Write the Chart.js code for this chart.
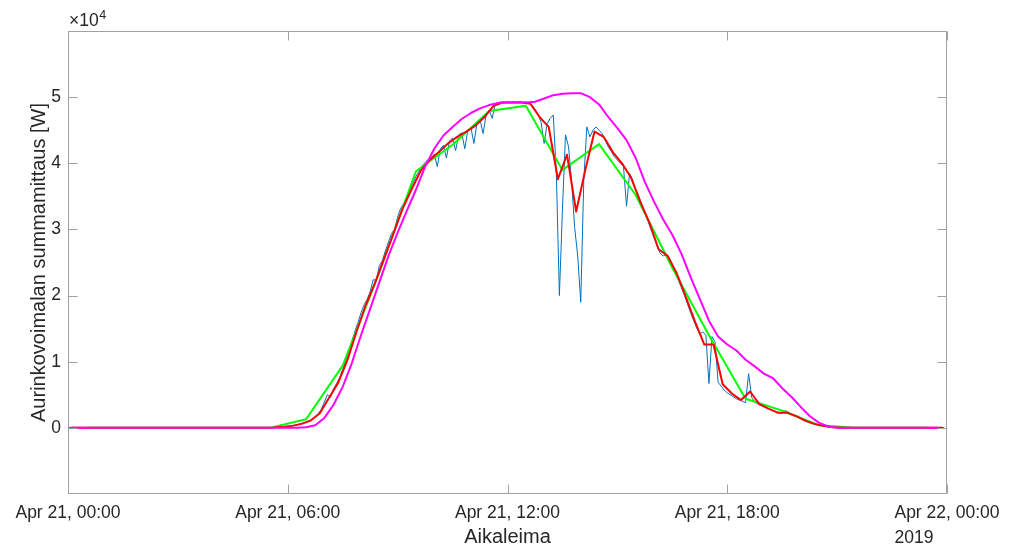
<!DOCTYPE html>
<html>
<head>
<meta charset="utf-8">
<title>Aurinkovoimalan summamittaus</title>
<style>
  html, body { margin: 0; padding: 0; background: #ffffff; }
  canvas { display: block; }
</style>
<script src="https://cdn.jsdelivr.net/npm/chart.js@4/dist/chart.umd.min.js"></script>
</head>
<body>
<canvas id="chart" width="1010" height="550"></canvas>
<script>
// ---- Axis text ----
const xTickHours = [0, 6, 12, 18, 24];
const xTickLabels = ['Apr 21, 00:00', 'Apr 21, 06:00', 'Apr 21, 12:00', 'Apr 21, 18:00', 'Apr 22, 00:00'];
const yearLabel = '2019';
const yTickValues = [0, 10000, 20000, 30000, 40000, 50000];
const yRange = [-10000, 60000];
const xTitle = 'Aikaleima';
const yTitle = 'Aurinkovoimalan summamittaus [W]';

// ---- Series (W) ----
// Measured power, 5-minute samples from 00:00 (one row per hour)
const measuredStepMin = 5;
const measured = [
  0, 0, 0, 0, 0, 0, 0, 0, 0, 0, 0, 0,
  0, 0, 0, 0, 0, 0, 0, 0, 0, 0, 0, 0,
  0, 0, 0, 0, 0, 0, 0, 0, 0, 0, 0, 0,
  0, 0, 0, 0, 0, 0, 0, 0, 0, 0, 0, 0,
  0, 0, 0, 0, 0, 0, 0, 0, 0, 0, 0, 0,
  0, 0, 0, 0, 0, 0, 30, 50, 70, 110, 150, 190,
  240, 300, 360, 470, 600, 730, 880, 1080, 1300, 1650, 2150, 2800,
  3900, 5000, 4600, 5900, 6700, 7600, 8800, 10100, 11600, 13100, 14600, 15900,
  17400, 18600, 19400, 20600, 22400, 22300, 24500, 25300, 26800, 28100, 29400, 30000,
  31900, 33200, 33900, 35000, 36000, 37000, 38000, 38800, 39600, 40100, 40600, 40800,
  41400, 39500, 42200, 42700, 40800, 43400, 43800, 41900, 44300, 44600, 42200, 45000,
  45400, 43000, 46100, 46600, 44500, 47300, 48000, 46800, 49000, 49200, 49300, 49200,
  49300, 49200, 49300, 49200, 49300, 49200, 49300, 49100, 48800, 48200, 47400, 46200,
  43000, 46000, 46800, 47300, 38500, 20000, 33000, 44300, 42500, 37300, 30300, 26000,
  19000, 37500, 45500, 44000, 45000, 45500, 45000, 44500, 43500, 42500, 41800, 41000,
  40500, 40000, 39500, 33500, 38500, 37500, 36000, 35000, 33800, 32500, 31300, 30000,
  28800, 27500, 26400, 26000, 26200, 25700, 24600, 23400, 22300, 21200, 20000, 18700,
  17400, 16200, 15100, 14200, 14500, 14000, 6700, 13800, 13000, 6900, 6300, 5700,
  5300, 5000, 4700, 4400, 4200, 4000, 3800, 8200, 4600, 3900, 3600, 3400,
  3200, 3000, 2800, 2600, 2450, 2300, 2200, 2600, 2400, 2050, 1850, 1650,
  1400, 1150, 950, 780, 620, 500, 400, 300, 220, 160, 110, 80,
  50, 30, 15, 0, 0, 0, 0, 0, 0, 0, 0, 0,
  0, 0, 0, 0, 0, 0, 0, 0, 0, 0, 0, 0,
  0, 0, 0, 0, 0, 0, 0, 0, 0, 0, 0, 0
];

// 15-minute means, plotted at the middle of each interval
const quarterStepMin = 15;
const quarterMean = [
  0, 0, 0, 0,   0, 0, 0, 0,   0, 0, 0, 0,   0, 0, 0, 0,   0, 0, 0, 0,
  0, 0, 50, 150,
  300, 600, 1100, 2200,
  4500, 6800, 10200, 14500,
  18500, 21800, 25500, 29200,
  33000, 36000, 38800, 40500,
  41700, 43000, 44000, 44800,
  45700, 47000, 48700, 49200,
  49200, 49200, 49000, 47000,
  45500, 37600, 41300, 32700,
  39000, 44800, 44000, 41700,
  40000, 37800, 34200, 31000,
  27000, 26000, 23300, 19700,
  16000, 12600, 12600, 6600,
  5200, 4200, 5500, 3600,
  2900, 2300, 2300, 1800,
  1100, 600, 300, 100,
  30, 0, 0, 0,
  0, 0, 0, 0,   0, 0, 0, 0
];

// Hourly means, plotted at the half hour
const hourlyMean = [
  0, 0, 0, 0, 0, 0, 1300, 9400, 23500, 38800, 42800, 47900,
  48700, 39000, 42900, 35200, 24200, 14000, 4400, 2600, 400, 0, 0, 0
];

// Clear-sky estimate, 15-minute steps from 00:00
const clearSkyStepMin = 15;
const clearSky = [
  0, 0, 0, 0,   0, 0, 0, 0,   0, 0, 0, 0,   0, 0, 0, 0,   0, 0, 0, 0,   0, 0, 0, 0,
  0, 0, 100, 400,
  1500, 3500, 6200, 9800,
  14000, 18000, 22000, 26000,
  29500, 32800, 36000, 39500,
  42200, 44200, 45500, 46700,
  47600, 48300, 48800, 49100,
  49200, 49200, 49200, 49300,
  49800, 50300, 50500, 50600,
  50600, 50000, 48900, 47000,
  45300, 43500, 40800, 37200,
  34200, 31500, 29200, 26300,
  22800, 19500, 16200, 13800,
  12600, 11700, 10300, 9300,
  8200, 7500, 6000, 4700,
  3200, 1800, 800, 200,
  0, 0, 0, 0,   0, 0, 0, 0,   0, 0, 0, 0
];

// ---- Build {x: hour, y: W} points ----
const sampled = (vals, stepMin, offsetMin) =>
  vals.map((v, i) => ({ x: (i * stepMin + offsetMin) / 60, y: v }));

const FONT = '"Liberation Sans", Arial, Helvetica, sans-serif';
const TEXT = '#262626';
const AXIS = '#a0a0a0';
const TICK_PX = 17.5;
const TITLE_PX = 20;

Chart.defaults.font.family = FONT;
Chart.defaults.font.size = TICK_PX;
Chart.defaults.color = TEXT;

// Box, inward tick marks and the free-standing texts
const axesDecor = {
  id: 'axesDecor',
  afterDatasetsDraw(chart) {
    const { ctx, chartArea: a, scales: { x, y } } = chart;
    const L = Math.round(a.left) + 0.5, R = Math.round(a.right) - 0.5;
    const T = Math.round(a.top) + 0.5, B = Math.round(a.bottom) - 0.5;
    const tl = 9;
    ctx.save();
    ctx.strokeStyle = AXIS;
    ctx.lineWidth = 1;
    ctx.strokeRect(L, T, R - L, B - T);
    ctx.beginPath();
    y.ticks.forEach(t => {
      const py = Math.round(y.getPixelForValue(t.value)) + 0.5;
      ctx.moveTo(L, py); ctx.lineTo(L + tl, py);
      ctx.moveTo(R, py); ctx.lineTo(R - tl, py);
    });
    x.ticks.forEach(t => {
      const px = Math.round(x.getPixelForValue(t.value)) + 0.5;
      ctx.moveTo(px, B); ctx.lineTo(px, B - tl);
      ctx.moveTo(px, T); ctx.lineTo(px, T + tl);
    });
    ctx.stroke();
    ctx.restore();
  },
  afterDraw(chart) {
    const { ctx, chartArea: a, scales: { x } } = chart;
    ctx.save();
    ctx.fillStyle = TEXT;
    ctx.textBaseline = 'alphabetic';

    // x-axis title
    ctx.font = TITLE_PX + 'px ' + FONT;
    ctx.textAlign = 'center';
    ctx.fillText(xTitle, (a.left + a.right) / 2, 543);

    // year under the last tick label
    ctx.font = TICK_PX + 'px ' + FONT;
    const lastW = ctx.measureText(xTickLabels[xTickLabels.length - 1]).width;
    ctx.textAlign = 'left';
    ctx.fillText(yearLabel, x.getPixelForValue(24) - lastW / 2, 543);

    // y-axis title
    ctx.font = TITLE_PX + 'px ' + FONT;
    ctx.translate(45, (a.top + a.bottom) / 2);
    ctx.rotate(-Math.PI / 2);
    ctx.textAlign = 'center';
    ctx.fillText(yTitle, 0, 0);
    ctx.setTransform(1, 0, 0, 1, 0, 0);

    // exponent marker
    ctx.textAlign = 'left';
    ctx.font = TICK_PX + 'px ' + FONT;
    const base = '\u00d710';
    ctx.fillText(base, a.left + 1, 26);
    const bw = ctx.measureText(base).width;
    ctx.font = '12.5px ' + FONT;
    ctx.fillText('4', a.left + 1 + bw + 0.5, 19);
    ctx.restore();
  }
};

new Chart(document.getElementById('chart'), {
  type: 'line',
  data: {
    datasets: [
      {
        label: 'Clear sky',
        data: sampled(clearSky, clearSkyStepMin, 0),
        borderColor: '#ff00ff', borderWidth: 2, order: 0
      },
      {
        label: '15 min',
        data: sampled(quarterMean, quarterStepMin, quarterStepMin / 2),
        borderColor: '#ff0000', borderWidth: 2, order: 1
      },
      {
        label: '1 h',
        data: sampled(hourlyMean, 60, 30),
        borderColor: '#00ff00', borderWidth: 2, order: 2
      },
      {
        label: 'Measured',
        data: sampled(measured, measuredStepMin, 0),
        borderColor: '#0072bd', borderWidth: 1, order: 3
      }
    ]
  },
  options: {
    responsive: false,
    animation: false,
    devicePixelRatio: 1,
    layout: { padding: { top: 31, right: 63, left: 0, bottom: 0 } },
    elements: {
      point: { radius: 0, hoverRadius: 0 },
      line: { tension: 0, fill: false, borderJoinStyle: 'round', borderCapStyle: 'round' }
    },
    plugins: {
      legend: { display: false },
      tooltip: { enabled: false },
      title: { display: false }
    },
    scales: {
      x: {
        type: 'linear',
        min: 0,
        max: 24,
        grid: { display: false, drawTicks: false },
        border: { display: false },
        afterBuildTicks: s => { s.ticks = xTickHours.map(v => ({ value: v })); },
        afterFit: s => { s.height = 56; },
        ticks: {
          autoSkip: false,
          maxRotation: 0,
          minRotation: 0,
          padding: 9,
          color: TEXT,
          font: { size: TICK_PX },
          callback: v => xTickLabels[xTickHours.indexOf(v)]
        }
      },
      y: {
        min: yRange[0],
        max: yRange[1],
        grid: { display: false, drawTicks: false },
        border: { display: false },
        afterBuildTicks: s => { s.ticks = yTickValues.map(v => ({ value: v })); },
        afterFit: s => { s.width = 68; },
        ticks: {
          padding: 7,
          color: TEXT,
          font: { size: TICK_PX },
          callback: v => String(v / 10000)
        }
      }
    }
  },
  plugins: [axesDecor]
});
</script>
</body>
</html>
